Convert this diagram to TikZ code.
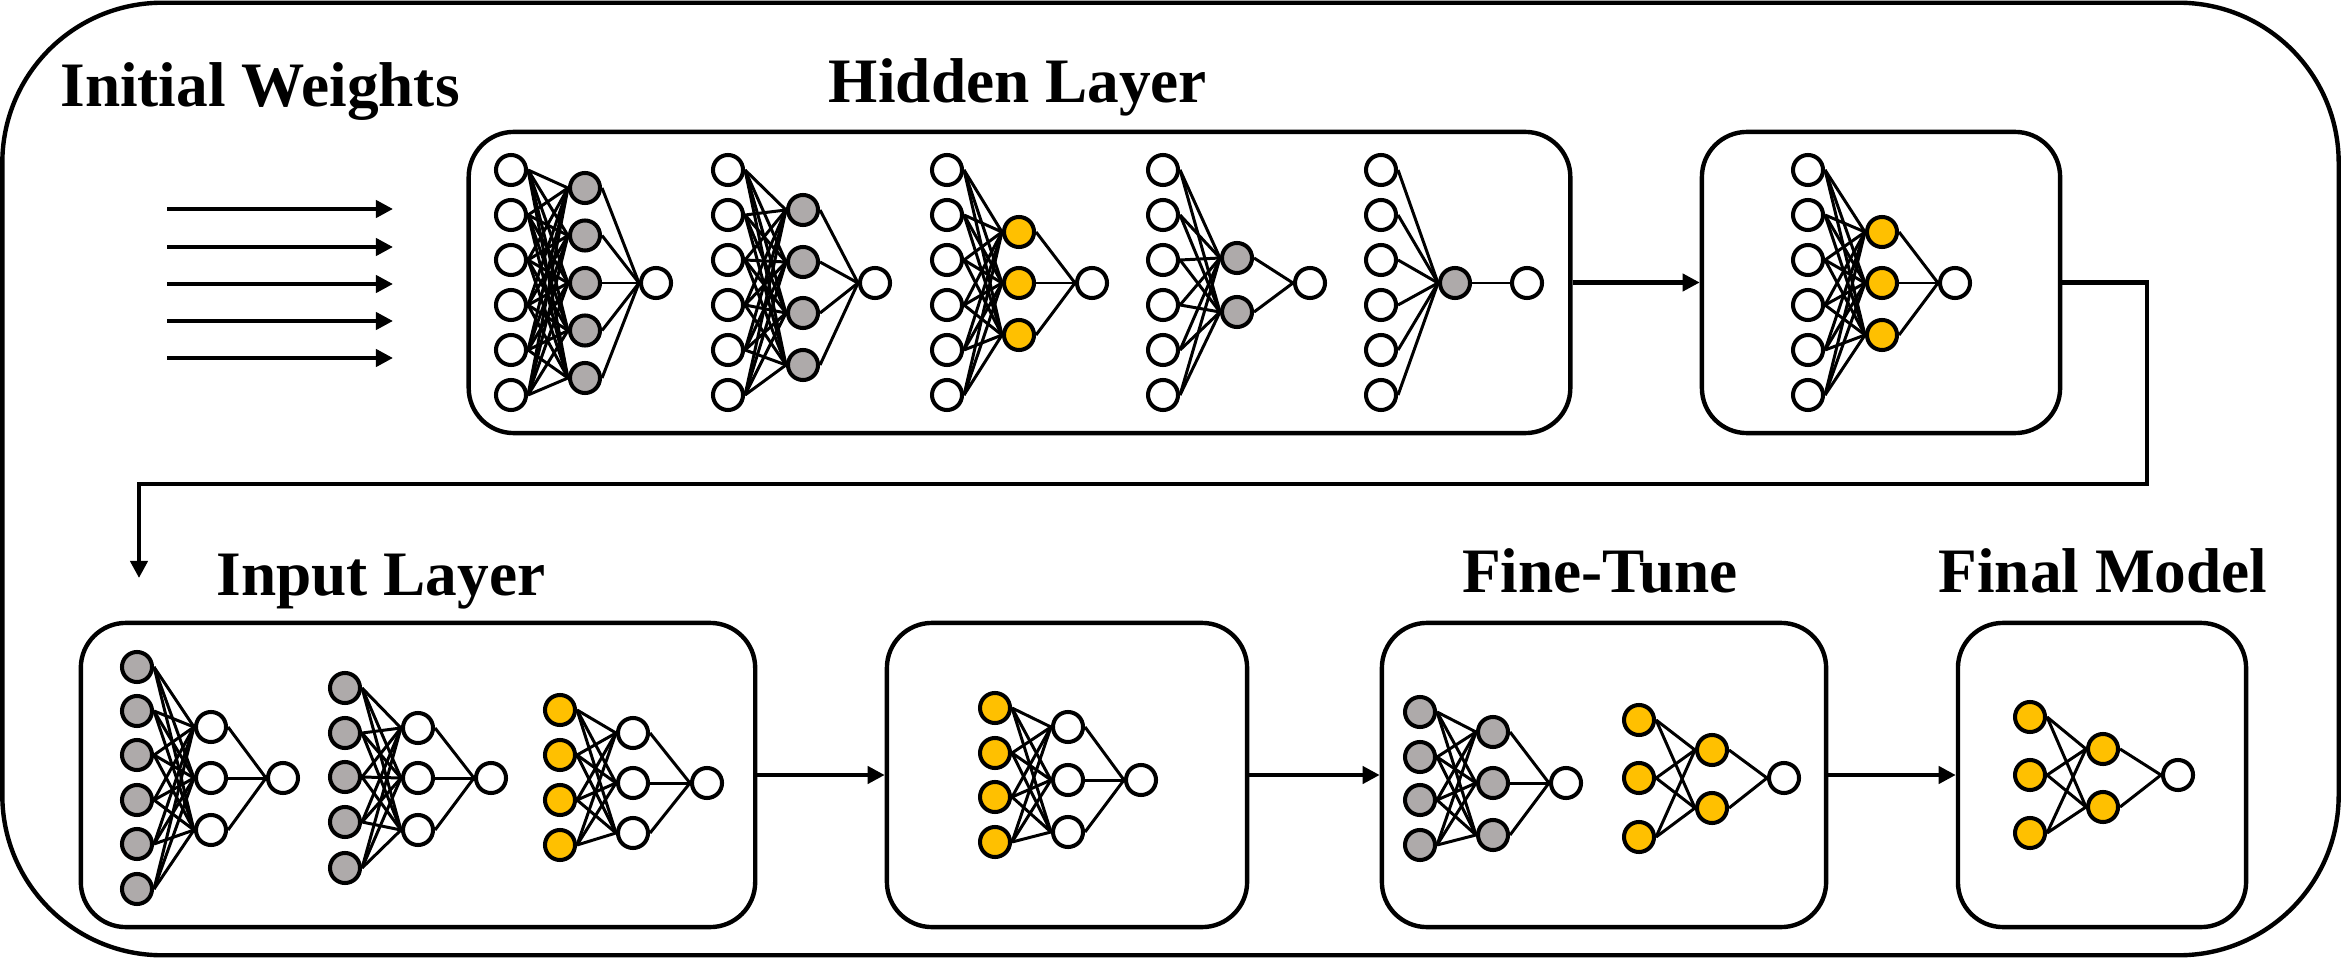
\documentclass[tikz,border=0pt]{standalone}
\usepackage{fontspec}
\setmainfont{Liberation Serif}
\usetikzlibrary{arrows.meta}
\definecolor{nngray}{HTML}{AEAAAA}
\definecolor{nnyellow}{HTML}{FFC000}
\tikzset{
  neuron/.style={circle,draw=black,line width=1.15pt,minimum size=0.3cm,inner sep=0pt},
  wn/.style={fill=white},
  gn/.style={fill=nngray},
  yn/.style={fill=nnyellow},
  link/.style={line width=0.85pt,black},
  box/.style={draw=black,line width=1.25pt,rounded corners=0.45cm,inner sep=0pt,fill=none},
  arr/.style={line width=1.15pt,-{Triangle[length=0.17cm,width=0.17cm]}},
  title/.style={font=\fontsize{18}{20}\selectfont\bfseries,inner sep=0pt,anchor=base},
}
\newcommand{\nnet}[9]{%
  \foreach \yy [count=\k] in {#3} {\node[neuron,#4] (#1i\k) at (#2,\yy) {};}
  \foreach \yy [count=\k] in {#6} {\node[neuron,#7] (#1h\k) at (#5,\yy) {};}
  \node[neuron,wn] (#1o) at (#8,#9) {};
  \foreach \ya [count=\i] in {#3} {\foreach \yb [count=\j] in {#6} {\draw[link] (#1i\i.east) -- (#1h\j.west);}}
  \foreach \yb [count=\j] in {#6} {\draw[link] (#1h\j.east) -- (#1o.west);}
}
\begin{document}
\begin{tikzpicture}[x=0.01cm,y=-0.01cm]
\useasboundingbox (0,0) rectangle (2343,958);
% outer frame
\node[draw=black,line width=1.25pt,rounded corners=1.6cm,inner sep=0pt,minimum width=23.35cm,minimum height=9.52cm] (outer) at (1170.5,479) {};
% boxes
\node[box,minimum width=11.01cm,minimum height=3.01cm] (HB) at (1019.5,282.5) {};
\node[box,minimum width=3.58cm,minimum height=3.01cm] (SB) at (1881,282.5) {};
\node[box,minimum width=6.74cm,minimum height=3.04cm] (B1) at (418,775) {};
\node[box,minimum width=3.60cm,minimum height=3.04cm] (B2) at (1067,775) {};
\node[box,minimum width=4.44cm,minimum height=3.04cm] (B3) at (1604,775) {};
\node[box,minimum width=2.88cm,minimum height=3.04cm] (B4) at (2102,775) {};
% titles
\node[title] (tIW) at (260,107) {Initial Weights};
\node[title] (tHL) at (1018,103) {Hidden Layer};
\node[title] (tIL) at (381,595) {Input Layer};
\node[title] (tFT) at (1600,592) {Fine-Tune};
\node[title] (tFM) at (2103,592) {Final Model};
% initial weights arrows
\foreach \y [count=\n] in {209,247,284,321,358} {
  \coordinate (ws\n) at (167,\y);
  \coordinate (we\n) at (393,\y);
  \draw[arr] (ws\n) -- (we\n);
}
% hidden layer networks
\nnet{ha}{511}{170,215,260,305,350,395}{wn}{585}{188,235.5,283,330.5,378}{gn}{656}{283}
\nnet{hb}{728}{170,215,260,305,350,395}{wn}{803}{210,262,313,365}{gn}{875}{283}
\nnet{hc}{947}{170,215,260,305,350,395}{wn}{1019}{232,283,335}{yn}{1092}{283}
\nnet{hd}{1163}{170,215,260,305,350,395}{wn}{1237}{258,312}{gn}{1310}{283}
\nnet{he}{1381}{170,215,260,305,350,395}{wn}{1455}{283}{gn}{1527}{283}
\nnet{sa}{1808}{170,215,260,305,350,395}{wn}{1882}{232,283,335}{yn}{1955}{283}
% input layer networks
\nnet{ia}{137}{667,711,755,800,844,889}{gn}{211}{727,778,830}{wn}{283}{778}
\nnet{ib}{345}{688,733,777,822,868}{gn}{418}{728,778,830}{wn}{491}{778}
\nnet{ic}{560}{710,755,800,845}{yn}{633}{733,783,833}{wn}{707}{783}
\nnet{ba}{995}{708,753,797,842}{yn}{1068}{727,780,832}{wn}{1141}{780}
\nnet{fa}{1420}{712,757,800,845}{gn}{1493}{732,783,835}{gn}{1566}{783}
\nnet{fb}{1639}{720,778,837}{yn}{1712}{750,808}{yn}{1784}{778}
\nnet{ma}{2030}{717,775,833}{yn}{2103}{749,807}{yn}{2178}{775}
% connectors
\draw[arr] (HB.east) -- (SB.west);
\coordinate (c1) at (2147,484);
\coordinate (c2) at (139,578);
\draw[arr] (SB.east) -| (c1) -| (c2);
\draw[arr] (B1.east) -- (B2.west);
\draw[arr] (B2.east) -- (B3.west);
\draw[arr] (B3.east) -- (B4.west);
\end{tikzpicture}
\end{document}
